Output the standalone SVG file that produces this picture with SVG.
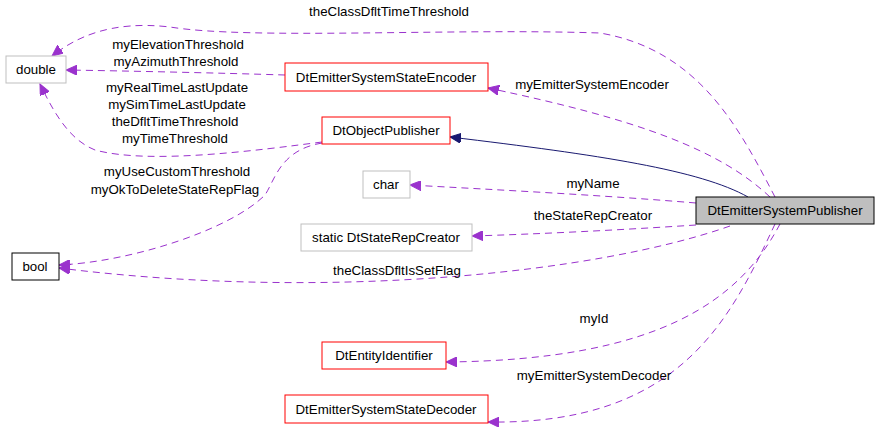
<svg xmlns="http://www.w3.org/2000/svg" width="880" height="429" viewBox="0 0 880 429">
<style>
text{font-family:"Liberation Sans",Arial,sans-serif;font-size:13.3px;fill:#000}
.n text{text-anchor:middle}
.l{text-anchor:middle}
.e{fill:none;stroke:#9a32cd;stroke-dasharray:7,5;stroke-width:1}
.g{fill:#fff;stroke:#bfbfbf}
.r{fill:#fff;stroke:#ff0000}
</style>
<defs>
<marker id="p" markerWidth="12" markerHeight="10" refX="11" refY="5" orient="auto" markerUnits="userSpaceOnUse"><path d="M0,0L11,5L0,10z" fill="#9a32cd" stroke="#9a32cd"/></marker>
<marker id="b" markerWidth="12" markerHeight="10" refX="11" refY="5" orient="auto" markerUnits="userSpaceOnUse"><path d="M0,0L11,5L0,10z" fill="#191970" stroke="#191970"/></marker>
</defs>
<rect width="880" height="429" fill="#fff"/>
<g id="edges">
<path class="e" marker-end="url(#p)" d="M775,197C740,130 700,50 600,33C450,28 250,40 170,27C110,20 75,38 52,56"/>
<path class="e" marker-end="url(#p)" d="M285,75C220,73 130,71 66,70"/>
<path class="e" marker-end="url(#p)" d="M322,142C260,150 150,165 95,150C70,140 55,115 40,84"/>
<path class="e" marker-end="url(#p)" d="M322,143C280,150 275,180 265,195C230,230 130,262 59,265"/>
<path fill="none" stroke="#191970" marker-end="url(#b)" d="M748,197C700,170 600,155 450,137"/>
<path class="e" marker-end="url(#p)" d="M770,197C720,150 640,120 488,88"/>
<path class="e" marker-end="url(#p)" d="M696,203C600,195 500,190 410,185"/>
<path class="e" marker-end="url(#p)" d="M696,225C620,230 540,234 472,236"/>
<path class="e" marker-end="url(#p)" d="M730,226C600,272 330,302 59,268"/>
<path class="e" marker-end="url(#p)" d="M780,224C740,300 660,360 446,362"/>
<path class="e" marker-end="url(#p)" d="M775,224C730,320 680,425 488,422"/>
</g>
<g id="labels">
<text class="l" x="389" y="16">theClassDfltTimeThreshold</text>
<text class="l" x="178" y="49">myElevationThreshold</text>
<text class="l" x="176" y="66">myAzimuthThreshold</text>
<text class="l" x="177" y="92">myRealTimeLastUpdate</text>
<text class="l" x="177" y="109">mySimTimeLastUpdate</text>
<text class="l" x="175" y="126">theDfltTimeThreshold</text>
<text class="l" x="175" y="143">myTimeThreshold</text>
<text class="l" x="177" y="176">myUseCustomThreshold</text>
<text class="l" x="175" y="194">myOkToDeleteStateRepFlag</text>
<text class="l" x="592" y="89">myEmitterSystemEncoder</text>
<text class="l" x="593" y="188">myName</text>
<text class="l" x="593" y="220">theStateRepCreator</text>
<text class="l" x="397" y="275">theClassDfltIsSetFlag</text>
<text class="l" x="594" y="323">myId</text>
<text class="l" x="594" y="380">myEmitterSystemDecoder</text>
</g>
<g id="double" class="n"><rect class="g" x="6" y="56" width="60" height="27"/><text x="36" y="74">double</text></g>
<g id="encoder" class="n"><rect class="r" x="285" y="63" width="203" height="28"/><text x="386" y="82">DtEmitterSystemStateEncoder</text></g>
<g id="objpub" class="n"><rect class="r" x="322" y="117" width="128" height="27"/><text x="386" y="135">DtObjectPublisher</text></g>
<g id="char" class="n"><rect class="g" x="363" y="171" width="47" height="27"/><text x="386" y="189">char</text></g>
<g id="creator" class="n"><rect class="g" x="301" y="224" width="171" height="27"/><text x="386" y="242">static DtStateRepCreator</text></g>
<g id="bool" class="n"><rect fill="#fff" stroke="#000" x="12" y="253" width="47" height="27"/><text x="35" y="271">bool</text></g>
<g id="entity" class="n"><rect class="r" x="322" y="342" width="124" height="27"/><text x="384" y="360">DtEntityIdentifier</text></g>
<g id="decoder" class="n"><rect class="r" x="285" y="395" width="203" height="28"/><text x="386" y="414">DtEmitterSystemStateDecoder</text></g>
<g id="main" class="n"><rect fill="#bfbfbf" stroke="#000" x="696" y="197" width="178" height="27"/><text x="785" y="215">DtEmitterSystemPublisher</text></g>
</svg>
